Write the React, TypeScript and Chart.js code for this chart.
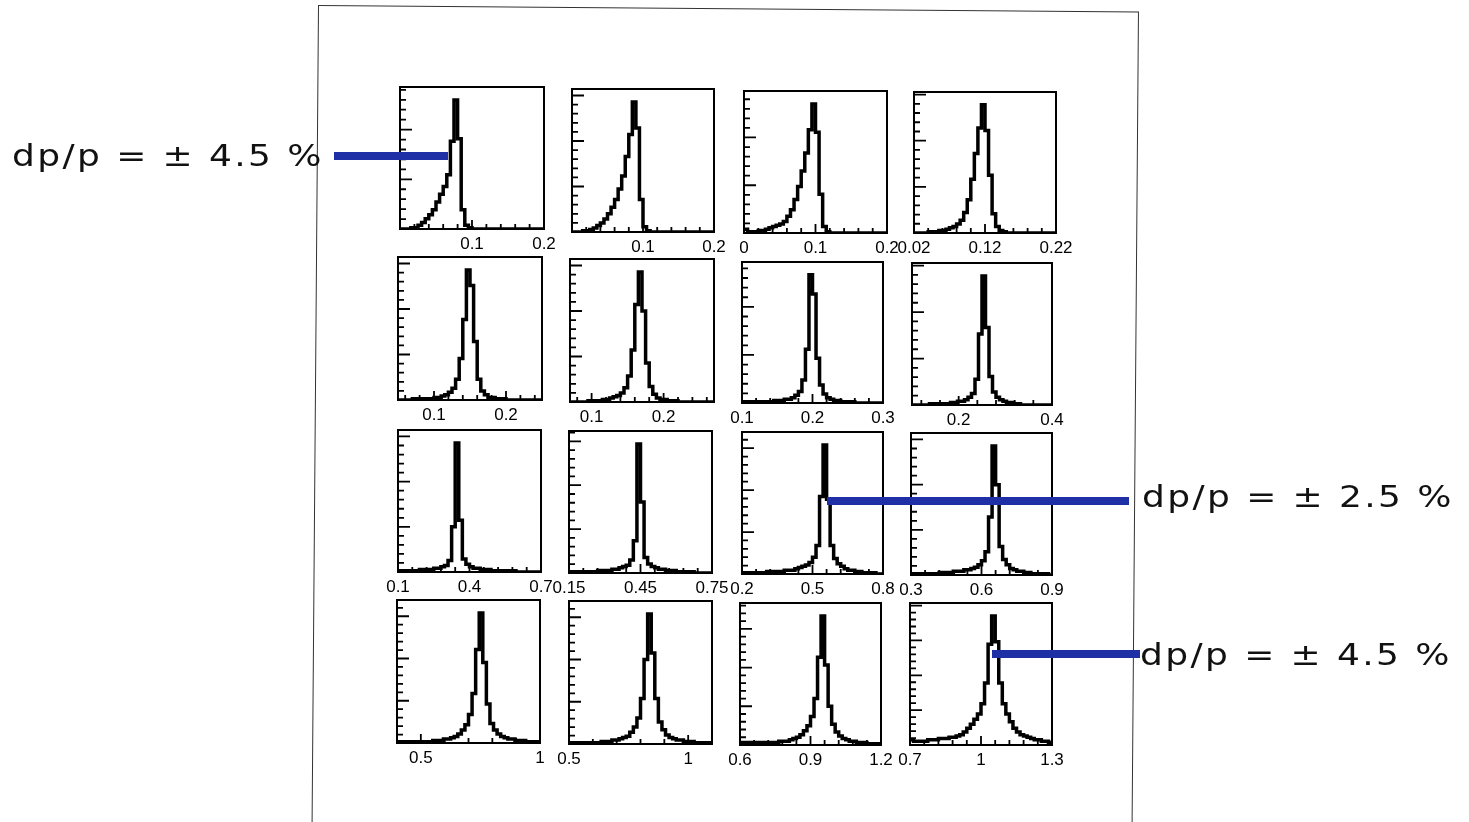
import React, { useEffect, useRef } from "react";
import { Chart, registerables } from "chart.js";

Chart.register(...registerables);

// ---------- data ----------
const h11 = [0,0,0,1,1,3,5,8,11,15, 21,27,33,42,68,100,70,15,3,1, 0,0,0,0,0,0,0,0,0,0, 0,0,0,0,0,0,0,0,0,0];
const h12 = [0,0,0,1,1,2,3,5,7,10, 14,19,25,33,43,58,75,100,80,25, 4,1,0,0,0,0,0,0,0,0, 0,0,0,0,0,0,0,0,0,0];
const h13 = [3,1,1,1,2,2,3,4,5,6, 7,9,13,18,26,36,48,62,80,100, 78,30,5,1,0,0,0,0,0,0, 0,0,0,0,0,0,0,0,0,0];
const h14 = [0,0,0,0,1,1,1,2,2,3, 4,5,7,10,16,26,42,62,82,100, 80,45,15,5,2,1,0,0,0,0, 0,0,0,0,0,0,0,0,0,0];
const h21 = [0,0,0,0,1,1,1,1,1,1, 2,2,3,4,6,9,16,32,62,100, 88,45,16,7,4,2,2,1,1,1, 0,0,0,0,0,0,0,0,0,0];
const h22 = [0,0,0,0,0,1,1,1,1,2, 2,3,4,5,7,11,20,40,75,100, 70,30,12,6,3,2,2,1,1,1, 0,0,0,0,0,0,0,0,0,0];
const h23 = [1,1,1,1,1,1,1,1,1,2, 2,2,3,3,4,6,9,18,42,100, 85,35,14,7,4,3,2,2,1,1, 1,1,0,0,0,0,0,0,0,0];
const h24 = [0,0,0,0,0,1,1,1,1,1, 1,2,2,3,3,4,6,9,20,55, 100,60,22,10,6,4,3,2,2,1, 1,0,0,0,0,0,0,0,0,0];
const h31 = [1,1,1,1,1,1,2,2,2,2, 3,3,4,5,9,35,100,40,10,6, 4,3,3,2,2,2,1,1,1,1, 1,1,1,0,0,0,0,0,0,0];
const h32 = [1,1,1,1,1,1,1,1,2,2, 2,2,3,3,4,5,6,10,25,100, 55,12,7,5,4,3,3,2,2,2, 1,1,1,1,1,0,0,0,0,0];
const h33 = [1,1,1,1,1,1,1,2,2,2, 2,2,3,3,3,4,5,6,7,9, 13,22,60,100,58,22,12,8,6,4, 3,3,2,2,1,1,1,1,0,0];
const h34 = [1,1,1,1,1,1,1,1,2,2, 2,2,3,3,3,4,4,5,6,8, 11,18,45,100,70,22,12,8,5,4, 3,3,2,2,1,1,1,1,1,0];
const h41 = [1,1,1,1,1,1,1,1,1,1, 2,2,2,3,3,4,5,7,10,14, 22,38,72,100,62,30,15,10,7,5, 4,3,3,2,2,2,1,1,1,1];
const h42 = [1,1,1,1,1,1,1,1,1,2, 2,2,3,3,4,5,6,9,13,20, 35,65,100,70,35,17,11,7,5,4, 3,3,2,2,2,1,1,1,1,1];
const h43 = [2,2,2,2,2,2,2,2,2,2, 2,3,3,3,4,5,6,8,11,15, 22,36,68,100,62,30,16,10,7,5, 4,3,3,2,2,2,1,1,1,1];
const h44 = [4,3,3,3,3,4,4,4,5,5, 5,6,6,7,8,10,13,16,20,24, 32,48,78,100,80,48,32,24,18,13, 10,8,7,6,5,4,4,3,3,2];

const hists = [h11, h12, h13, h14, h21, h22, h23, h24, h31, h32, h33, h34, h41, h42, h43, h44];

const xMins = [0, 0, 0, 0.02, 0.05, 0.07, 0.1, 0.1, 0.1, 0.15, 0.2, 0.3, 0.4, 0.5, 0.6, 0.7];
const xMaxs = [0.2, 0.2, 0.2, 0.22, 0.25, 0.27, 0.3, 0.4, 0.7, 0.75, 0.8, 0.9, 1.0, 1.1, 1.2, 1.3];

const tickLabelValues = [
  [0.1, 0.2], [0.1, 0.2], [0, 0.1, 0.2], [0.02, 0.12, 0.22],
  [0.1, 0.2], [0.1, 0.2], [0.1, 0.2, 0.3], [0.2, 0.4],
  [0.1, 0.4, 0.7], [0.15, 0.45, 0.75], [0.2, 0.5, 0.8], [0.3, 0.6, 0.9],
  [0.5, 1], [0.5, 1], [0.6, 0.9, 1.2], [0.7, 1, 1.3],
];
const tickLabelTexts = [
  ["0.1", "0.2"], ["0.1", "0.2"], ["0", "0.1", "0.2"], ["0.02", "0.12", "0.22"],
  ["0.1", "0.2"], ["0.1", "0.2"], ["0.1", "0.2", "0.3"], ["0.2", "0.4"],
  ["0.1", "0.4", "0.7"], ["0.15", "0.45", "0.75"], ["0.2", "0.5", "0.8"], ["0.3", "0.6", "0.9"],
  ["0.5", "1"], ["0.5", "1"], ["0.6", "0.9", "1.2"], ["0.7", "1", "1.3"],
];

const Y_MAX = 110;
const yTickSteps = [7.7, 7.0, 7.4, 7.2, 7.0, 7.0, 7.5, 7.2, 7.0, 6.8, 6.5, 7.0, 6.5, 6.5, 6.0, 5.4];

const annotationTexts = ["dp/p = \u00b1 4.5 %", "dp/p = \u00b1 2.5 %", "dp/p = \u00b1 4.5 %"];

// ---------- layout ----------
const boxes = [
  [400, 87, 144, 142], [572, 89, 142, 143], [744, 91, 143, 142], [914, 92, 142, 141],
  [398, 257, 144, 143], [570, 259, 144, 143], [742, 262, 141, 141], [912, 263, 140, 142],
  [398, 430, 143, 142], [569, 431, 143, 142], [742, 432, 141, 142], [911, 433, 141, 142],
  [397, 600, 143, 143], [569, 601, 143, 143], [740, 603, 141, 142], [910, 603, 142, 142],
];
const PADX = 26;
const PADT = 4;
const AXH = 26;

function makeAxisPlugin(anchor: number, major: number, ystep: number) {
  const minor = major / 5;
  return {
    id: "rootAxes",
    afterDatasetsDraw(chart: any) {
      const { ctx, chartArea: a, scales } = chart;
      const x = scales.x;
      const y = scales.y;
      ctx.save();
      ctx.strokeStyle = "#000";
      ctx.lineWidth = 2;
      ctx.strokeRect(a.left, a.top, a.right - a.left, a.bottom - a.top);
      ctx.lineWidth = 1.8;
      ctx.beginPath();
      const kmin = Math.ceil((x.min - anchor) / minor - 1e-6);
      const kmax = Math.floor((x.max - anchor) / minor + 1e-6);
      for (let k = kmin; k <= kmax; k++) {
        const v = anchor + k * minor;
        const px = x.getPixelForValue(v);
        if (px <= a.left + 1 || px >= a.right - 1) continue;
        const len = k % 5 === 0 ? 9 : 5;
        ctx.moveTo(px, a.bottom);
        ctx.lineTo(px, a.bottom - len);
      }
      for (let k = 1; k * ystep < y.max; k++) {
        const py = y.getPixelForValue(k * ystep);
        const len = k % 5 === 0 ? 12 : 6;
        ctx.moveTo(a.left, py);
        ctx.lineTo(a.left + len, py);
      }
      ctx.stroke();
      ctx.restore();
    },
  };
}

function Panel({ idx }: { idx: number }) {
  const ref = useRef<HTMLCanvasElement | null>(null);
  const [left, top, w, h] = boxes[idx];
  const W = w + PADX * 2;
  const H = h + PADT + AXH;

  useEffect(() => {
    const counts = hists[idx];
    const lo = xMins[idx];
    const hi = xMaxs[idx];
    const bw = (hi - lo) / counts.length;
    const pts = [
      { x: lo, y: counts[0] },
      ...counts.map((c, i) => ({ x: lo + (i + 0.5) * bw, y: c })),
      { x: hi, y: counts[counts.length - 1] },
    ];
    const labVals = tickLabelValues[idx];
    const labTxt = tickLabelTexts[idx];
    const major = labVals[1] - labVals[0];
    const chart = new Chart(ref.current as HTMLCanvasElement, {
      type: "line",
      data: {
        datasets: [
          {
            data: pts,
            borderColor: "#000",
            borderWidth: 3.5,
            pointRadius: 0,
            stepped: "middle",
            fill: false,
          },
        ],
      },
      options: {
        animation: false,
        responsive: false,
        devicePixelRatio: 1,
        events: [],
        layout: { padding: { left: PADX, right: PADX, top: PADT, bottom: 0 } },
        plugins: {
          legend: { display: false },
          tooltip: { enabled: false },
          title: { display: false },
        },
        scales: {
          x: {
            type: "linear",
            min: lo,
            max: hi,
            grid: { display: false, drawTicks: false, tickLength: 0 },
            border: { display: false },
            afterBuildTicks: (s: any) => {
              s.ticks = labVals.map((v) => ({ value: v }));
            },
            afterFit: (s: any) => {
              s.height = AXH;
              s.paddingLeft = 0;
              s.paddingRight = 0;
            },
            ticks: {
              autoSkip: false,
              maxRotation: 0,
              minRotation: 0,
              padding: 5,
              color: "#000",
              font: { family: "'Liberation Sans', Arial, sans-serif", size: 17 },
              callback: (_v: any, i: number) => labTxt[i],
            },
          },
          y: { type: "linear", min: 0, max: Y_MAX, display: false },
        },
      } as any,
      plugins: [makeAxisPlugin(labVals[0], major, yTickSteps[idx])],
    });
    return () => chart.destroy();
  }, [idx]);

  return (
    <canvas
      ref={ref}
      width={W}
      height={H}
      style={{ position: "absolute", left: left - PADX, top: top - PADT, width: W, height: H }}
    />
  );
}

const textStyle: React.CSSProperties = {
  position: "absolute",
  fontFamily: "'DejaVu Sans', sans-serif",
  fontSize: 30,
  lineHeight: "30px",
  letterSpacing: 2,
  whiteSpace: "nowrap",
  color: "#111",
  transform: "scaleX(1.2)",
  transformOrigin: "0 50%",
};
const blue = "#1f2fa6";

export default function App() {
  return (
    <div
      style={{
        position: "absolute",
        left: 0,
        top: 0,
        width: 1469,
        height: 822,
        overflow: "hidden",
        background: "#fff",
      }}
    >
      <div
        style={{
          position: "absolute",
          left: 318,
          top: 5,
          width: 821,
          height: 900,
          border: "1.5px solid #333",
          boxSizing: "border-box",
          transform: "rotate(0.45deg)",
          transformOrigin: "0 0",
        }}
      />
      {boxes.map((_, i) => (
        <Panel key={i} idx={i} />
      ))}
      <div style={{ position: "absolute", left: 334, top: 152, width: 114, height: 8, background: blue }} />
      <div style={{ position: "absolute", left: 827, top: 497, width: 302, height: 8, background: blue }} />
      <div style={{ position: "absolute", left: 992, top: 650, width: 148, height: 8, background: blue }} />
      <div style={{ ...textStyle, left: 12, top: 141 }}>{annotationTexts[0]}</div>
      <div style={{ ...textStyle, left: 1142, top: 482 }}>{annotationTexts[1]}</div>
      <div style={{ ...textStyle, left: 1140, top: 640 }}>{annotationTexts[2]}</div>
    </div>
  );
}
